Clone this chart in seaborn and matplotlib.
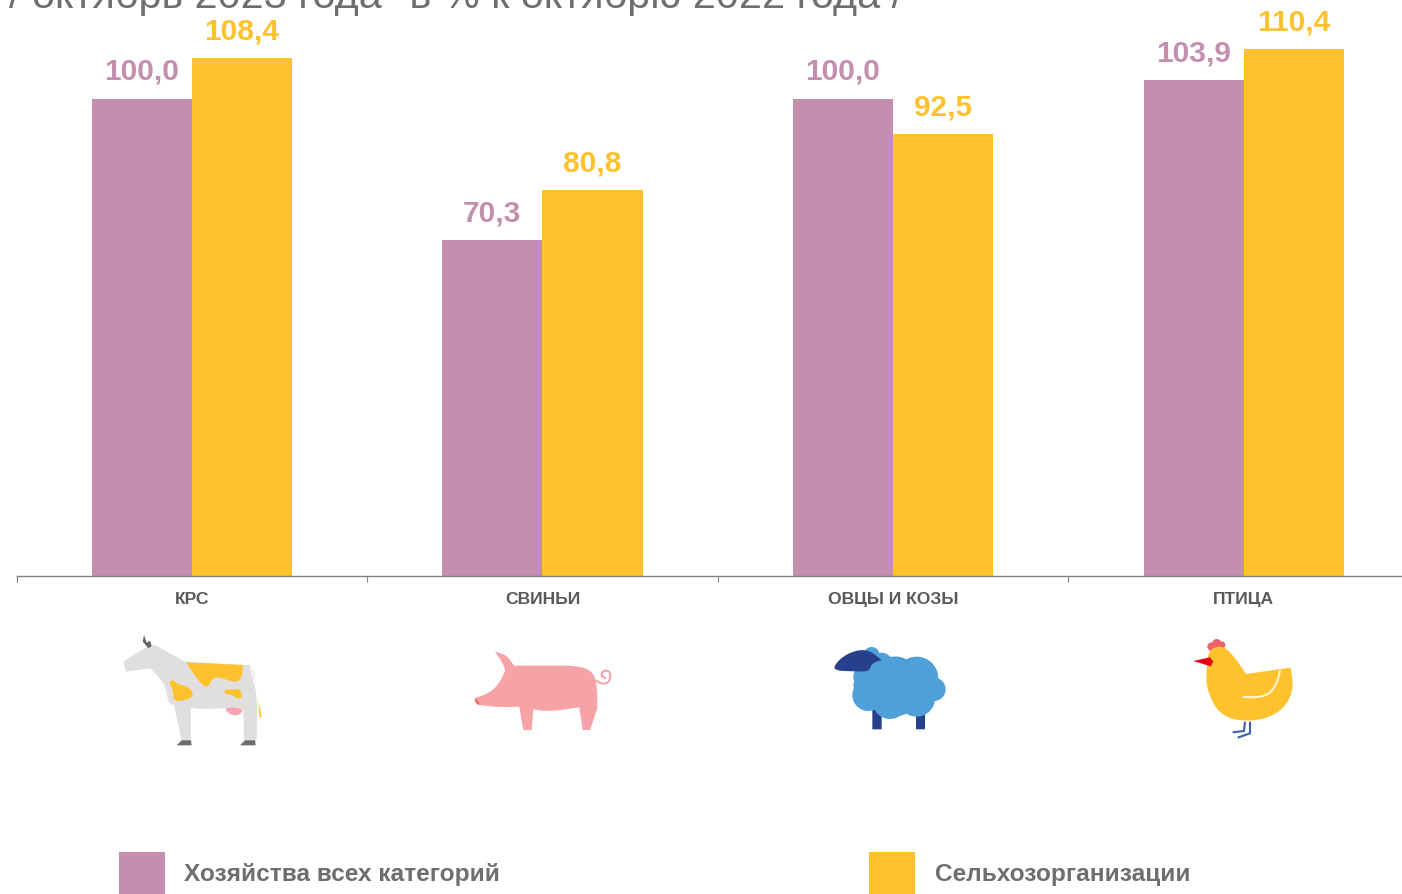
import matplotlib
matplotlib.use("Agg")
import matplotlib.pyplot as plt
import pandas as pd
import seaborn as sns
from matplotlib.patches import Circle, PathPatch
from matplotlib.path import Path

categories = ["КРС", "СВИНЬИ", "ОВЦЫ И КОЗЫ", "ПТИЦА"]
all_farms = [100.0, 70.3, 100.0, 103.9]
agri_orgs = [108.4, 80.8, 92.5, 110.4]
series_names = ["Хозяйства всех категорий", "Сельхозорганизации"]
title_text = "/ октябрь 2023 года* в % к октябрю 2022 года /"

PURPLE = "#C48FAF"
YELLOW = "#FFC12C"
GRAY = "#6E6E6E"

df = pd.DataFrame({
    "category": categories * 2,
    "value": all_farms + agri_orgs,
    "series": [series_names[0]] * 4 + [series_names[1]] * 4,
})

sns.set_theme(style="white")
plt.rcParams["font.family"] = ["Liberation Sans", "DejaVu Sans"]

W, H = 1402, 894
fig = plt.figure(figsize=(W / 100, H / 100), dpi=100)

# the category band runs past the right edge of the picture, as in the original
ax = fig.add_axes([16.5 / W, (H - 575.5) / H, 1402.5 / W, 575.5 / H])
sns.barplot(
    data=df, x="category", y="value", hue="series",
    palette=[PURPLE, YELLOW], saturation=1, width=0.571, linewidth=0, ax=ax,
)
ax.set_xlim(-0.5, 3.5)
ax.set_ylim(0, 575.5 / 4.77)
ax.set_xlabel("")
ax.set_ylabel("")
ax.set_yticks([])
sns.despine(ax=ax, left=True)
ax.spines["bottom"].set_color("#808080")
ax.spines["bottom"].set_linewidth(1)
ax.patch.set_alpha(0)

ax.set_xticks(range(4))
ax.set_xticklabels(categories, fontsize=12.6, fontweight="bold", color="#595959")
ax.tick_params(axis="x", which="major", length=0, pad=12.2)
ax.set_xticks([-0.5, 0.5, 1.5, 2.5], minor=True)
ax.tick_params(axis="x", which="minor", bottom=True, length=4, width=0.8, color="#808080")

for cont, vals, col in zip(ax.containers, [all_farms, agri_orgs], [PURPLE, YELLOW]):
    labels = [f"{v:.1f}".replace(".", ",") for v in vals]
    ax.bar_label(cont, labels=labels, padding=9, fontsize=21.5, fontweight="bold", color=col)

# legend along the bottom edge
handles, names = ax.get_legend_handles_labels()
ax.legend(
    handles, names, ncols=2, frameon=False, loc="lower left",
    bbox_to_anchor=(119 / W, 0), bbox_transform=fig.transFigure,
    borderpad=0, borderaxespad=0, prop={"size": 17.6, "weight": "bold"},
    labelcolor=GRAY, handlelength=1.88, handleheight=2.27,
    handletextpad=0.78, columnspacing=15.12,
)

fig.text(9 / W, (H - 8) / H, title_text, fontsize=29.8, color=GRAY, va="baseline")

# pictograms, drawn in pixel space on an overlay
icons = fig.add_axes([0, 0, 1, 1], zorder=5)
icons.set_xlim(0, W)
icons.set_ylim(H, 0)
icons.axis("off")
icons.patch.set_alpha(0)


def curve_path(pts, origin, closed):
    # quadratic curves through midpoints; a point given twice stays a sharp corner
    p = [(origin[0] + x / 3, origin[1] + y / 3) for x, y in pts]
    mid = lambda a, b: ((a[0] + b[0]) / 2, (a[1] + b[1]) / 2)
    if closed:
        verts = [mid(p[-1], p[0])]
        for i in range(len(p)):
            verts += [p[i], mid(p[i], p[(i + 1) % len(p)])]
    else:
        verts = [p[0]]
        for i in range(1, len(p) - 1):
            end = mid(p[i], p[i + 1]) if i < len(p) - 2 else p[-1]
            verts += [p[i], end]
    codes = [Path.MOVETO] + [Path.CURVE3] * (len(verts) - 1)
    return Path(verts, codes)


def shape(pts, origin, color):
    icons.add_patch(PathPatch(curve_path(pts, origin, True), facecolor=color, edgecolor="none"))


def stroke(pts, origin, color, lw):
    icons.add_patch(PathPatch(curve_path(pts, origin, False), facecolor="none", edgecolor=color, lw=lw))


def blobs(items, origin, color):
    for x, y, r in items:
        icons.add_patch(Circle((origin[0] + x / 3, origin[1] + y / 3), r / 3, facecolor=color, edgecolor="none"))


def sharp(*pts):
    out = []
    for pt in pts:
        out += [pt, pt]
    return out


# cow
o = (100, 620)
shape([(70, 125), (70, 125), (130, 85), (165, 75), (165, 75), (255, 125), (255, 125), (430, 135), (460, 135),
       (472, 230), (470, 362), (470, 362), (432, 362), (432, 362), (430, 270), (430, 270), (370, 264),
       (300, 268), (272, 262), (272, 262), (272, 362), (272, 362), (245, 362), (245, 362), (222, 255), (222, 255),
       (205, 250), (195, 190), (150, 145), (150, 145), (78, 155), (78, 155)], o, "#E0DFDE")
shape(sharp((258, 127), (428, 135)) + [(425, 180), (400, 187), (340, 165), (325, 205), (300, 190)], o, YELLOW)
shape([(205, 185), (220, 178), (235, 195), (265, 198), (285, 228), (245, 245), (218, 240), (222, 215)], o, YELLOW)
shape([(372, 207), (400, 210), (420, 205), (428, 232), (412, 238), (395, 222), (375, 224)], o, YELLOW)
shape([(368, 262), (432, 264), (420, 286), (392, 286)], o, "#F4A6AE")
shape(sharp((230, 376), (245, 361), (273, 361), (275, 376)), o, "#6B6B6B")
shape(sharp((420, 376), (435, 361), (465, 361), (467, 376)), o, "#6B6B6B")
shape(sharp((120, 55), (128, 65), (132, 45), (140, 68), (150, 62), (155, 78), (145, 85)), o, "#666666")
stroke([(450, 140), (468, 190), (474, 240)], o, "#FFFFFF", 1)
shape(sharp((475, 238), (485, 292), (478, 290)), o, YELLOW)

# pig
o = (450, 630)
shape(sharp((135, 65)) + [(170, 75)] + sharp((192, 107)) + [(300, 107), (385, 107), (430, 125), (442, 170)]
      + sharp((442, 235), (420, 300), (398, 300), (388, 232)) + [(300, 245)]
      + sharp((250, 238), (245, 300), (220, 300), (208, 230)) + [(150, 232)]
      + sharp((85, 225), (72, 205)) + [(130, 185), (165, 130), (165, 110)], o, "#F5A3A6")
shape([(72, 203), (85, 212), (90, 225), (78, 222)], o, "#EE6A72")
stroke([(438, 150), (455, 165), (480, 155), (482, 125), (460, 120), (452, 140), (468, 145)], o, "#F5A3A6", 1.5)

# sheep
o = (810, 630)
shape(sharp((187, 240), (215, 240), (215, 298), (187, 298)), o, "#27408B")
shape(sharp((318, 240), (345, 240), (345, 298), (318, 298)), o, "#27408B")
blobs([(185, 75, 24), (215, 100, 32), (165, 140, 35), (175, 195, 48), (250, 170, 90), (320, 145, 65),
       (372, 178, 35), (240, 215, 52), (320, 205, 55), (260, 135, 55), (150, 165, 20)], o, "#4F9FD9")
shape(sharp((215, 90)) + [(185, 100), (178, 125), (130, 124), (75, 122), (72, 105), (110, 70), (170, 55)], o, "#27408B")

# hen
o = (1170, 625)
stroke([(225, 290), (222, 318), (222, 318), (188, 322)], o, "#3F5FA8", 1.5)
stroke([(240, 290), (240, 325), (240, 325), (203, 338)], o, "#3F5FA8", 1.5)
blobs([(125, 65, 13), (140, 56, 14), (155, 60, 11)], o, "#E8636B")
shape([(110, 130), (115, 75), (155, 60), (190, 90)] + sharp((228, 147), (362, 128))
      + [(372, 200), (330, 265), (245, 292), (150, 275), (108, 190)], o, YELLOW)
shape(sharp((70, 108), (120, 97), (130, 110), (122, 124)), o, "#E30613")
stroke([(330, 135), (322, 185), (275, 222), (218, 215)], o, "#FFF4D6", 1.5)

fig.savefig("out.png", dpi=100)
